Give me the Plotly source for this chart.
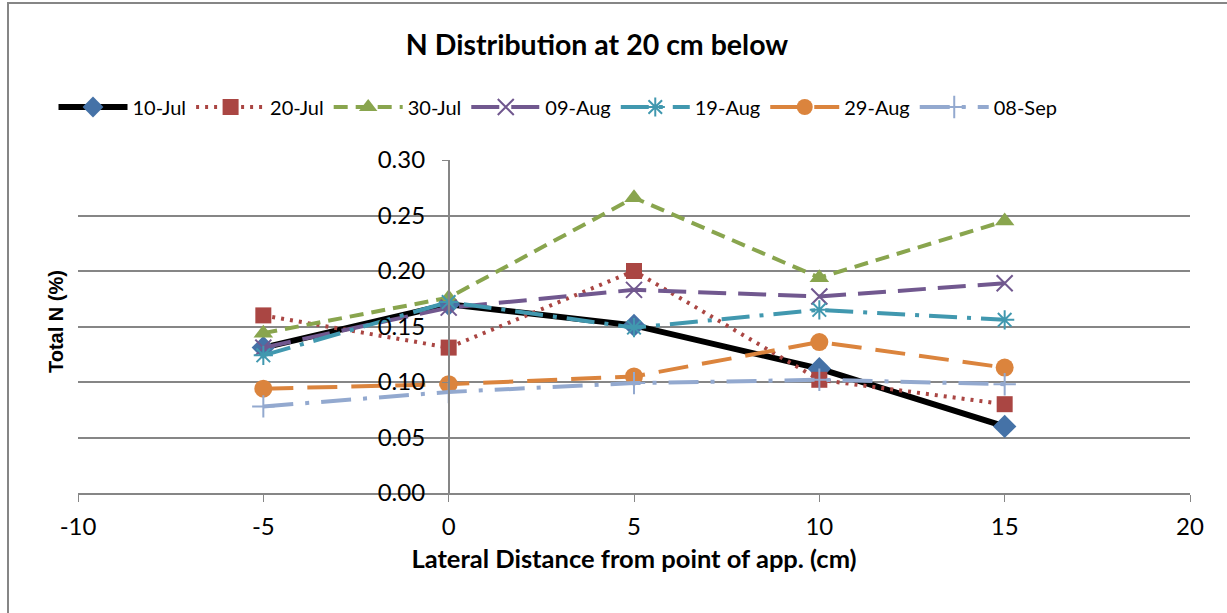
import plotly.graph_objects as go

x_vals = [-5, 0, 5, 10, 15]
jul10 = [0.131, 0.170, 0.151, 0.112, 0.060]
jul20 = [0.160, 0.131, 0.200, 0.102, 0.080]
jul30 = [0.144, 0.176, 0.266, 0.194, 0.245]
aug09 = [0.131, 0.167, 0.183, 0.177, 0.189]
aug19 = [0.124, 0.172, 0.149, 0.165, 0.156]
aug29 = [0.094, 0.098, 0.105, 0.136, 0.113]
sep08 = [0.078, 0.091, 0.099, 0.102, 0.098]

x_tick_vals = [-10, -5, 0, 5, 10, 15, 20]
x_tick_text = ["-10", "-5", "0", "5", "10", "15", "20"]

series = [
    ("10-Jul", jul10, "#000000", "#4572A7", "solid", 6, "diamond", 18),
    ("20-Jul", jul20, "#AA4643", "#AA4643", "3px,6px", 4, "square", 16),
    ("30-Jul", jul30, "#89A54E", "#89A54E", "14px,8px", 4, "triangle-up", 17),
    ("09-Aug", aug09, "#71588F", "#71588F", "28px,12px", 4, "x-thin-open", 16),
    ("19-Aug", aug19, "#4198AF", "#4198AF", "28px,10px,4px,10px", 4, "asterisk-open", 16),
    ("29-Aug", aug29, "#DB843D", "#DB843D", "30px,14px", 4, "circle", 18),
    ("08-Sep", sep08, "#93A9CF", "#93A9CF", "30px,12px,4px,12px", 4, "cross-thin-open", 16),
]

fig = go.Figure()
for name, ys, lc, mc, dash, w, sym, sz in series:
    thin = sym.endswith("-open")
    fig.add_trace(go.Scatter(
        x=x_vals, y=ys, name=name, mode="lines+markers",
        line=dict(color=lc, width=w, dash=dash),
        marker=dict(symbol=sym, size=sz, color=mc,
                    line=dict(color=mc, width=2 if thin else 0)),
    ))

FONT = "Lato, Carlito, Calibri, sans-serif"
fig.update_layout(
    width=1227, height=613,
    margin=dict(l=78, r=37, t=160, b=120),
    paper_bgcolor="white", plot_bgcolor="white",
    font=dict(family=FONT, size=21, color="black"),
    title=dict(text="<b>N Distribution at 20 cm below</b>", x=597 / 1227, xanchor="center",
               y=1 - 45 / 613, yanchor="middle", font=dict(size=28.5, family=FONT)),
    legend=dict(orientation="h", x=(558 - 78) / 1112, xanchor="center", y=1 - 107 / 613,
                yref="container", yanchor="middle", font=dict(size=20, family=FONT),
                itemwidth=69, bgcolor="rgba(0,0,0,0)"),
    xaxis=dict(range=[-10, 20], tickvals=x_tick_vals, ticktext=x_tick_text,
               showgrid=False, zeroline=False,
               showline=True, linecolor="#868686", linewidth=1.5,
               ticks="outside", ticklen=7, tickcolor="#868686",
               tickfont=dict(size=24), ticklabelstandoff=4,
               title=dict(text="<b>Lateral Distance from point of app. (cm)</b>",
                          font=dict(size=25.5), standoff=12)),
    yaxis=dict(range=[0, 0.30], dtick=0.05, tickformat=".2f", showgrid=True,
               gridcolor="#868686", gridwidth=1.5, zeroline=False,
               showline=True, linecolor="#868686", linewidth=1.5,
               anchor="free", position=1 / 3,
               ticks="outside", ticklen=6, tickcolor="#868686",
               tickfont=dict(size=24), ticklabelstandoff=12),
    annotations=[dict(text="<b>Total N (%)</b>", textangle=-90, xref="paper", yref="paper",
                      x=(56 - 78) / 1112, y=(493 - 322) / 333, xanchor="center", yanchor="middle",
                      showarrow=False, font=dict(size=20, family="Liberation Sans, Arial"))],
    shapes=[dict(type="rect", xref="paper", yref="paper",
                 x0=(8 - 78) / 1112, x1=(1240 - 78) / 1112,
                 y0=(493 - 625) / 333, y1=(493 - 3) / 333,
                 line=dict(color="#868686", width=2), fillcolor="rgba(0,0,0,0)", layer="below")],
)

fig.write_html("out.html")
